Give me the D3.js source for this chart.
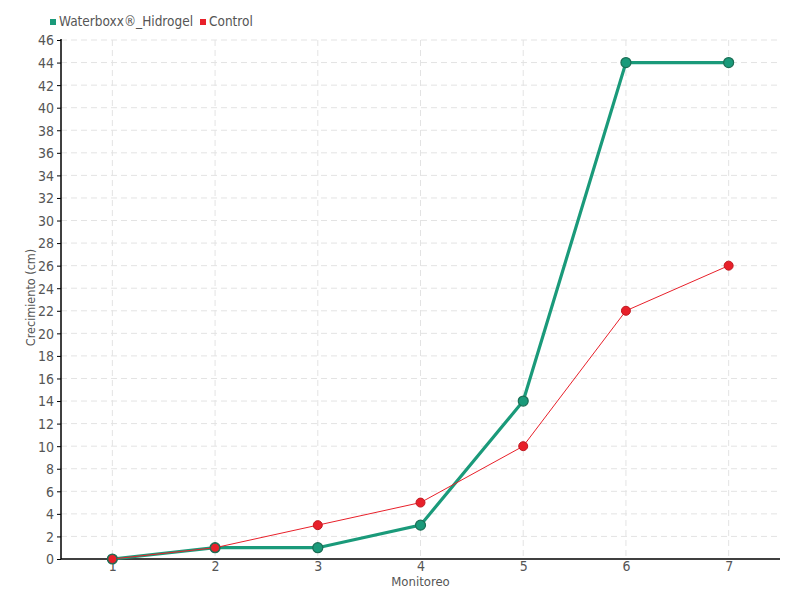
<!DOCTYPE html>
<html><head><meta charset="utf-8">
<script src="https://cdn.jsdelivr.net/npm/d3@7"></script>
<style>
body{margin:0;background:#fff;}
text{font-family:"DejaVu Sans Condensed","Liberation Sans Narrow","Roboto",sans-serif;fill:#555;}
</style></head><body>
<svg id="c" width="800" height="600"></svg>
<script>
const categories = ["1","2","3","4","5","6","7"];
const waterboxx = [0,1,1,3,14,44,44];
const control = [0,1,3,5,10,22,26];
const yTicks = d3.range(0,47,2);
const seriesNames = ["Waterboxx®_Hidrogel","Control"];
const colors = ["#1a9a7a","#e8202a"];

const svg = d3.select("#c");
const L=61,R=780,T=40,B=559;
const x = d3.scalePoint().domain(categories).range([L,R]).padding(0.5);
const y = d3.scaleLinear().domain([0,46]).range([B,T]);

// grid
svg.append("g").selectAll("line").data(yTicks.slice(1)).join("line")
  .attr("x1",L).attr("x2",R).attr("y1",d=>y(d)).attr("y2",d=>y(d))
  .attr("stroke","#e3e3e3").attr("stroke-dasharray","6,4");
svg.append("g").selectAll("line").data(categories).join("line")
  .attr("x1",d=>x(d)).attr("x2",d=>x(d)).attr("y1",T).attr("y2",B)
  .attr("stroke","#e3e3e3").attr("stroke-dasharray","6,4");

// axes
const ya = svg.append("g").attr("transform",`translate(${L},0)`)
  .call(d3.axisLeft(y).tickValues(yTicks).tickSize(4).tickPadding(3));
ya.select(".domain").attr("stroke","#000").attr("stroke-width",1.5).attr("d",`M0,${T-1}V${B}`);
ya.selectAll("line").attr("stroke","#000");
ya.selectAll("text").style("font-size","14px").attr("fill","#555").attr("dy","0.35em");
const xa = svg.append("g").attr("transform",`translate(0,${B})`)
  .call(d3.axisBottom(x).tickSize(0).tickPadding(2));
xa.select(".domain").attr("stroke","#000").attr("stroke-width",1.5).attr("d",`M${L},0H${R}`);
xa.selectAll("text").style("font-size","14px").attr("fill","#555");

// titles
svg.append("text").attr("transform",`translate(35,${(T+B)/2 - 2}) rotate(-90)`)
  .attr("text-anchor","middle").style("font-size","12.5px").text("Crecimiento (cm)");
svg.append("text").attr("x",(L+R)/2).attr("y",586).attr("text-anchor","middle")
  .style("font-size","13px").text("Monitoreo");

// lines
const line = d3.line().x((d,i)=>x(categories[i])).y(d=>y(d));
svg.append("path").datum(waterboxx).attr("d",line).attr("fill","none")
  .attr("stroke",colors[0]).attr("stroke-width",3.2);
svg.append("g").selectAll("circle").data(waterboxx).join("circle")
  .attr("cx",(d,i)=>x(categories[i])).attr("cy",d=>y(d)).attr("r",5)
  .attr("fill",colors[0]).attr("stroke","#1b6e55").attr("stroke-width",1.2);
svg.append("path").datum(control).attr("d",line).attr("fill","none")
  .attr("stroke",colors[1]).attr("stroke-width",1);
svg.append("g").selectAll("circle").data(control).join("circle")
  .attr("cx",(d,i)=>x(categories[i])).attr("cy",d=>y(d)).attr("r",4.5)
  .attr("fill",colors[1]).attr("stroke",(d,i)=> (waterboxx[i]===d)?"#1b6e55":"#c01820").attr("stroke-width",1);

// legend
const lg = svg.append("g");
const lx=[50,200];
seriesNames.forEach((n,i)=>{
  lg.append("rect").attr("x",lx[i]).attr("y",19).attr("width",6).attr("height",6).attr("fill",colors[i]);
  lg.append("text").attr("x",lx[i]+9).attr("y",26).style("font-size","13.5px").text(n);
});
</script></body></html>
